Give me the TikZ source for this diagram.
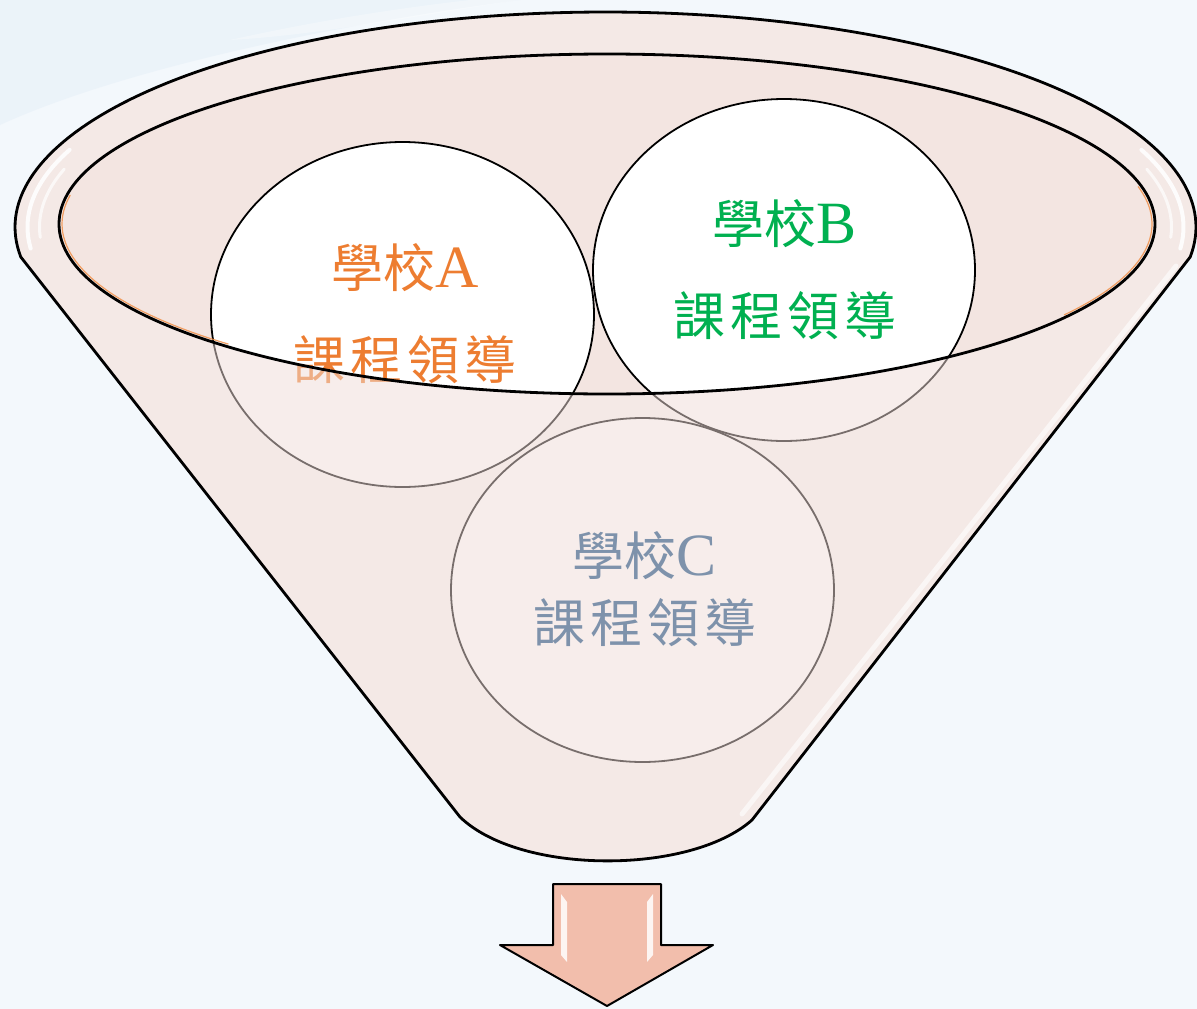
\documentclass[tikz,border=0pt]{standalone}
\usepackage{fontspec}
\newfontfamily\cjkfont{Noto Sans CJK TC}
\newfontfamily\latfont{Liberation Serif}
\definecolor{bgblue}{HTML}{F3F8FC}
\definecolor{swoosh}{HTML}{DDEAF6}
\definecolor{bodyfill}{HTML}{FAF7F6}
\definecolor{innerfill}{HTML}{F3E5E1}
\definecolor{ovlfill}{HTML}{F0DDD8}
\definecolor{orangeA}{HTML}{ED7D31}
\definecolor{greenB}{HTML}{00B050}
\definecolor{grayC}{HTML}{7E92AB}
\definecolor{arrowfill}{HTML}{F2BEAC}
\definecolor{rimorange}{HTML}{F0904A}
\tikzset{
  outline/.style={draw=black, line width=2.8pt, line join=round},
  circline/.style={draw=black, line width=1.8pt},
  lab/.style={inner sep=0pt, font=\fontsize{52}{60}\selectfont},
  gloss/.style={draw=white, line cap=round},
}
\newcommand\spc{\kern5pt}
\newcommand\latin[1]{{\latfont\fontsize{60}{60}\selectfont #1}}
\def\funnelpath{plot[domain=-8.02:188.02, samples=150] ({605.5-590.5*cos(\x)},{227-215*sin(\x)}) -- (752,820) .. controls (690,875) and (520,875) .. (460,817) -- cycle}
\def\innerpath{(607,224) ellipse [x radius=548, y radius=170]}
\def\cApath{(402.5,314.5) ellipse [x radius=191.5, y radius=172.5]}
\def\cBpath{(784,270) ellipse [x radius=191, y radius=171]}
\def\cCpath{(642.5,590) ellipse [x radius=191.5, y radius=172]}
\begin{document}
\begin{tikzpicture}[x=1pt,y=-1pt]
\useasboundingbox (0,0) rectangle (1197,1009);
\fill[bgblue] (0,0) rectangle (1197,1009);
% faint background swoosh
\fill[swoosh, opacity=0.35] (0,0) -- (520,0) .. controls (330,25) and (120,70) .. (0,125) -- cycle;
\fill[white, opacity=0.3] (230,40) .. controls (320,20) and (400,8) .. (470,0) -- (520,0) .. controls (420,15) and (320,35) .. (230,40) -- cycle;
% funnel body
\fill[bodyfill] \funnelpath;
\fill[innerfill] \innerpath;
% circles
\fill[white] \cApath;
\fill[white] \cBpath;
\fill[white] \cCpath;
\draw[circline] \cApath;
\draw[circline] \cBpath;
\draw[circline] \cCpath;
% texts of A and B (lower parts are seen through the funnel front)
\node[lab, text=orangeA] (a1) at (405,268) {\cjkfont 學校\latin{A}};
\node[lab, text=orangeA] (a2) at (405,360) {\cjkfont 課\spc 程\spc 領\spc 導};
\node[lab, text=greenB] (b1) at (785,224) {\cjkfont 學校\latin{B}};
\node[lab, text=greenB] (b2) at (785,316) {\cjkfont 課\spc 程\spc 領\spc 導};
% translucent front of funnel
\fill[ovlfill, opacity=0.5, even odd rule] \funnelpath \innerpath;
% text of C
\node[lab, text=grayC] (c1) at (645,556) {\cjkfont 學校\latin{C}};
\node[lab, text=grayC] (c2) at (645,623) {\cjkfont 課\spc 程\spc 領\spc 導};
% rim gloss
\draw[gloss, line width=4pt, opacity=0.9] plot[domain=-6:22, samples=40] ({605.5-578*cos(\x)},{227-206*sin(\x)});
\draw[gloss, line width=3pt, opacity=0.7] plot[domain=-3:17, samples=40] ({605.5-566*cos(\x)},{227-198*sin(\x)});
\draw[gloss, line width=4pt, opacity=0.9] plot[domain=158:186, samples=40] ({605.5-578*cos(\x)},{227-206*sin(\x)});
\draw[gloss, line width=3pt, opacity=0.7] plot[domain=163:183, samples=40] ({605.5-566*cos(\x)},{227-198*sin(\x)});
\draw[gloss, line width=5pt, opacity=0.6] (1176,266) -- (742,814);
% thin orange inner edge of rim
\draw[rimorange, line width=1.2pt, opacity=0.85] plot[domain=170:226, samples=40] ({607+545*cos(\x)},{224-167*sin(\x)});
\draw[rimorange, line width=1.2pt, opacity=0.85] plot[domain=-33:13, samples=40] ({607+545*cos(\x)},{224-167*sin(\x)});
% outlines
\draw[outline] \innerpath;
\draw[outline] \funnelpath;
% arrow
\draw[draw=black, line width=2pt, line join=round, fill=arrowfill] (553,884) -- (661,884) -- (661,945) -- (713,945) -- (607,1006) -- (500,945) -- (553,945) -- cycle;
\fill[white, opacity=0.85] (561,894) -- (567,902) -- (567,962) -- (561,955) -- cycle;
\fill[white, opacity=0.85] (653,894) -- (647,902) -- (647,962) -- (653,955) -- cycle;
\end{tikzpicture}
\end{document}
